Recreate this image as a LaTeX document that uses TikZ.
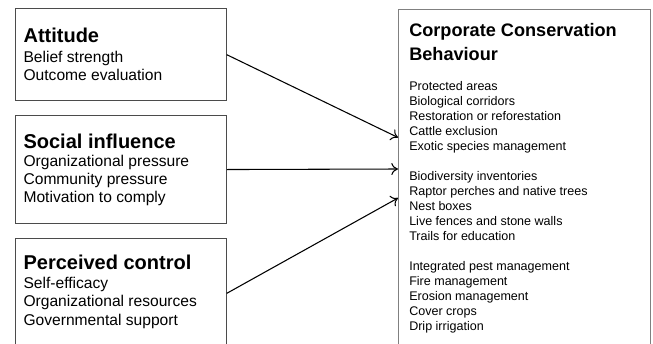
\documentclass[tikz,border=0pt]{standalone}
\usepackage{fontspec}
\setmainfont{Liberation Sans}
\usepackage{xcolor}
\usetikzlibrary{arrows,arrows.meta,positioning,calc}
\definecolor{framedark}{RGB}{75,75,75}
\definecolor{framelight}{RGB}{128,128,128}

\tikzset{
  >={To[length=5pt,width=9pt]},
  factor/.style={draw=framedark, line width=0.8pt, anchor=north west, inner sep=0pt, minimum width=211*0.75pt},
  behbox/.style={draw=framelight, line width=1pt, anchor=north west, inner sep=0pt, minimum width=252*0.75pt, minimum height=360*0.75pt},
  factorhead/.style={anchor=base west, inner sep=0pt, font=\fontsize{15}{18}\selectfont\bfseries},
  % multi-line nodes sit on the baseline of their last line
  factorlist/.style={anchor=base west, inner sep=0pt, align=left, font=\fontsize{11.7}{13.75}\selectfont},
  behhead/.style={anchor=base west, inner sep=0pt, align=left, font=\fontsize{13.6}{17.4}\selectfont\bfseries},
  behlist/.style={anchor=base west, inner sep=0pt, align=left, font=\fontsize{9.4}{11.25}\selectfont},
}

\begin{document}
\begin{tikzpicture}[x=0.75pt,y=-0.75pt]
\useasboundingbox (0,0) rectangle (653,343);
%%%%%%%%%%%%%%%% attitude
\node[factor, minimum height=91.7*0.75pt] (att) at (14.7,8.3) {};
\node[factorhead] (atthead) at (23.3,42.7) {Attitude};
\node[factorlist] (attlist) at (23.3,80.8) {Belief strength\\Outcome evaluation};
%%%%%%%%%%%%%%%% social influence
\node[factor, minimum height=108*0.75pt] (soc) at (14.7,115) {};
\node[factorhead] (sochead) at (23.3,148.3) {Social influence};
\node[factorlist] (soclist) at (23.3,202.7) {Organizational pressure\\Community pressure\\Motivation to comply};
%%%%%%%%%%%%%%%% perceived control
\node[factor, minimum height=109*0.75pt] (ctrl) at (14.7,238.3) {};
\node[factorhead] (ctrlhead) at (23.3,269.3) {Perceived control};
\node[factorlist] (ctrllist) at (23.3,325) {Self-efficacy\\Organizational resources\\Governmental support};
%%%%%%%%%%%%%%%% behaviour
\node[behbox] (beh) at (398,8.5) {};
\node[behhead] (behhead) at (409,60) {Corporate Conservation\\Behaviour};
\node[behlist] (habitat) at (409,150) {Protected areas\\Biological corridors\\Restoration or reforestation\\Cattle exclusion\\Exotic species management};
\node[behlist] (wildlife) at (409,240) {Biodiversity inventories\\Raptor perches and native trees\\Nest boxes\\Live fences and stone walls\\Trails for education};
\node[behlist] (farming) at (409,330) {Integrated pest management\\Fire management\\Erosion management\\Cover crops\\Drip irrigation};
%%%%%%%%%%%%%%%% arrows
\coordinate (in1) at ($(beh.north west)+(0,129)$);
\coordinate (in2) at ($(beh.north west)+(0,160.5)$);
\coordinate (in3) at ($(beh.north west)+(0,189.5)$);
\draw [thick,->] (att.east) -- (in1);
\draw [thick,->] (soc.east) -- (in2);
\draw [thick,->] (ctrl.east) -- (in3);
\end{tikzpicture}
\end{document}
